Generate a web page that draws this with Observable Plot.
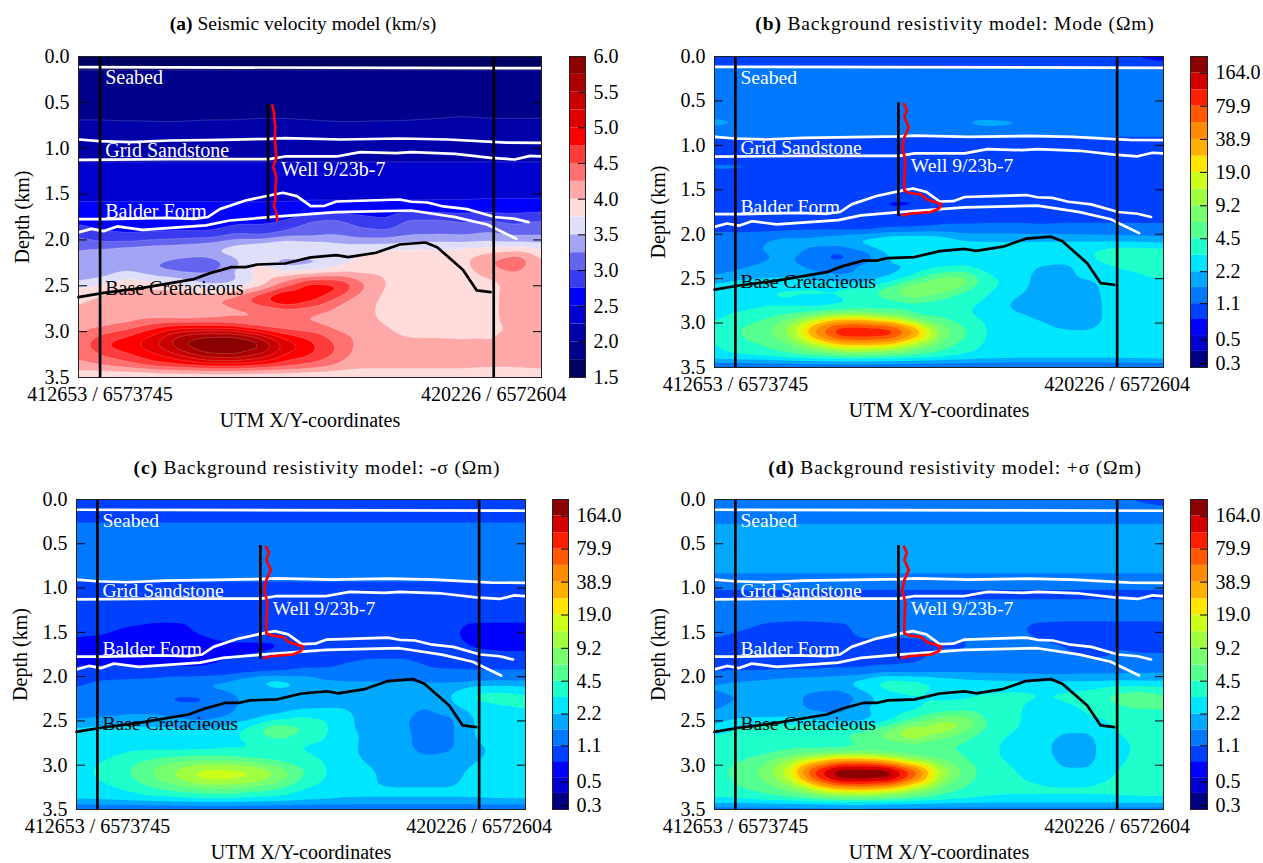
<!DOCTYPE html>
<html><head><meta charset="utf-8">
<script src="https://cdn.jsdelivr.net/npm/d3@7"></script>
<script src="https://cdn.jsdelivr.net/npm/@observablehq/plot@0.6"></script>
<style>
html,body{margin:0;padding:0;background:#fff}
#page{position:relative;width:1263px;height:863px;overflow:hidden;font-family:"Liberation Serif",serif;color:#000}
.t{position:absolute;font-size:19.5px;white-space:nowrap;transform:translateX(-50%);line-height:22px}
</style></head><body><div id="page"></div>
<script>
// along-profile distance in km of each grid column, and depth in km of each grid row
const columnsKm=[-0.42,0.08,0.58,1.08,1.58,2.08,2.58,3.08,3.59,4.09,4.59,5.09,5.59,6.09,6.59,7.09,7.59,8.09,8.59];
const rowsDepth=[0,.1,.15,.65,.8,.92,1.1,1.2,1.5,1.65,1.8,1.95,2.05,2.15,2.25,2.35,2.45,2.55,2.65,2.75,2.85,2.95,3.05,3.15,3.25,3.35,3.43,3.47,3.5];

const velocity=[
[1.6,1.6,1.6,1.6,1.6,1.6,1.6,1.6,1.6,1.6,1.6,1.6,1.6,1.6,1.6,1.6,1.6,1.6,1.6],
[1.65,1.65,1.65,1.65,1.65,1.65,1.65,1.65,1.65,1.65,1.65,1.65,1.65,1.65,1.65,1.65,1.65,1.65,1.65],
[1.8,1.8,1.8,1.8,1.8,1.8,1.8,1.8,1.8,1.8,1.8,1.8,1.8,1.8,1.8,1.8,1.8,1.8,1.8],
[1.97,1.97,1.96,1.96,1.96,1.97,1.97,1.98,1.98,1.97,1.96,1.96,1.96,1.97,1.98,1.99,1.98,1.98,1.98],
[2.07,2.07,2.07,2.06,2.06,2.07,2.07,2.08,2.08,2.07,2.06,2.06,2.07,2.07,2.08,2.1,2.08,2.08,2.08],
[2.15,2.15,2.15,2.15,2.15,2.15,2.15,2.15,2.15,2.15,2.15,2.15,2.15,2.15,2.15,2.15,2.15,2.15,2.15],
[2.22,2.22,2.22,2.22,2.22,2.22,2.22,2.22,2.22,2.22,2.22,2.22,2.22,2.22,2.22,2.22,2.22,2.22,2.22],
[2.28,2.28,2.28,2.28,2.28,2.28,2.28,2.28,2.28,2.28,2.28,2.28,2.28,2.28,2.28,2.28,2.28,2.28,2.28],
[2.43,2.43,2.43,2.43,2.43,2.43,2.43,2.42,2.43,2.43,2.43,2.43,2.43,2.43,2.44,2.44,2.45,2.45,2.45],
[2.56,2.56,2.56,2.56,2.56,2.56,2.56,2.56,2.56,2.58,2.58,2.58,2.58,2.58,2.58,2.58,2.6,2.6,2.6],
[2.7,2.65,2.6,2.6,2.6,2.6,2.65,2.7,2.75,3.05,3.1,2.9,2.8,3.1,3.1,3,3.05,2.95,3.05],
[2.95,2.8,2.75,2.8,2.8,2.8,3,2.9,3.1,3.1,3.2,3.1,3.1,3.2,3.2,3.2,3.3,3.2,3.2],
[3.15,3.05,3.1,3.2,3.3,3.4,3.55,3.7,3.85,3.75,3.6,3.55,3.55,3.6,3.65,3.6,3.6,3.6,3.55],
[3.3,3.45,3.6,3.65,3.55,3.55,3.65,3.7,3.75,3.65,3.7,3.8,3.9,3.9,3.85,4,4.1,4.2,3.9],
[3.3,3.4,3.4,3.15,2.95,2.8,3.25,3.7,3.2,3.3,3.6,3.8,3.9,3.9,3.75,3.95,4.3,4.6,4],
[3.3,3.35,3.45,3.3,3.25,3.35,3.6,4,3.8,3.8,3.9,3.9,3.9,3.9,3.85,3.9,4.1,4.25,4.05],
[3.45,3.6,3.9,3.75,3.6,3.3,3.3,3.6,4.2,4.7,4.7,4.3,4,3.85,3.7,3.85,3.95,4.05,4.05],
[3.85,4,4.1,4.05,4,3.85,3.9,4.25,4.7,5.05,4.9,4.3,3.95,3.85,3.85,3.9,3.95,4.1,4.1],
[4,4.05,4.1,4.2,4.25,4.3,4.45,4.85,5.3,4.9,4.4,4.1,3.95,3.85,3.85,3.85,3.95,4.1,4.1],
[4,4.05,4.1,4.05,3.95,4.1,4.2,4.3,4.4,4.35,4.2,4.05,3.95,3.85,3.85,3.85,3.95,4.1,4.1],
[4.05,4.05,4.1,4.15,4.1,4.15,4.2,4.2,4.2,4.2,4.15,4.05,3.97,3.9,3.87,3.87,3.95,4.1,4.1],
[4.1,4.25,4.4,4.7,4.85,4.8,4.7,4.45,4.35,4.3,4.15,4.05,4,3.9,3.9,3.9,3.95,4,4.05],
[4.3,4.6,4.8,5.1,5.65,5.9,5.95,5.5,4.9,4.7,4.4,4.15,4.05,4,4,3.98,4,4.05,4.1],
[4.4,4.8,4.95,5.3,5.8,6,6,5.95,5.3,4.85,4.5,4.15,4.05,4.05,4.05,4.05,4,4.05,4.1],
[4.3,4.55,4.75,4.95,5.3,5.8,5.9,5.55,4.95,4.8,4.5,4.1,4.05,4.05,4.05,4.05,4,4.05,4.1],
[4.2,4.3,4.45,4.75,4.85,4.95,4.95,4.85,4.7,4.5,4.25,4.05,4.05,4.05,4.05,4.05,4,4,4.05],
[4.1,4.1,4.15,4.2,4.25,4.3,4.3,4.25,4.2,4.15,4.1,4.1,4.1,4.1,4.1,4.1,4.1,4.1,4.1],
[3.8,3.8,3.8,3.8,3.8,3.8,3.8,3.8,3.8,3.8,3.8,3.8,3.8,3.8,3.8,3.8,3.8,3.8,3.8],
[3.4,3.4,3.4,3.4,3.4,3.4,3.4,3.4,3.4,3.4,3.4,3.4,3.4,3.4,3.4,3.4,3.4,3.4,3.4]];

const modeRes=[
[.7,.85,.9,.9,.9,.9,.9,.9,.9,.9,.9,.9,.9,.9,.9,.9,.85,.7,.6],
[.95,.95,.95,.95,.95,.95,.95,.95,.95,.95,.95,.95,.95,.95,.95,.95,.95,.95,.9],
[1.3,1.3,1.3,1.3,1.3,1.3,1.3,1.3,1.3,1.3,1.3,1.3,1.3,1.3,1.3,1.3,1.3,1.3,1.3],
[1.5,1.45,1.45,1.45,1.45,1.45,1.45,1.45,1.45,1.45,1.45,1.45,1.45,1.45,1.45,1.45,1.45,1.45,1.45],
[1.7,1.65,1.65,1.65,1.65,1.62,1.58,1.4,1.4,1.45,1.65,1.75,1.7,1.55,1.6,1.5,1.45,1.45,1.45],
[1.05,1,1,1,1,1,1,1,1,1,1,1,1,1,1,1,1,1,1],
[.95,.95,.95,.95,.95,.95,.95,.95,.95,.95,.95,.95,.95,.95,.95,.95,.95,.95,.95],
[1.15,1.15,1.15,1.15,1.15,1.15,1.15,1.15,1.15,1.15,1.15,1.15,1.15,1.15,1.15,1.15,1.15,1.15,1.15],
[.97,.95,.95,.95,.95,.95,.95,.95,.95,.95,.95,.95,.95,.95,.95,.95,.95,.95,.95],
[.95,.92,.9,.9,.9,.9,.9,.72,.72,.9,.92,.92,.92,.92,.92,.92,.92,.92,.92],
[.95,.92,.9,.9,.85,.72,.85,.9,.95,.95,1,1,1,1,1,1,1,1,1],
[1,.95,.95,.95,.95,.95,.85,1,1,1.15,1.15,1.2,1.2,1.15,1.2,1.2,1.2,1.2,1.2],
[1.3,1.4,1.5,1.7,2,2.3,3,3.6,4,3.2,2.3,2.2,2.2,2.1,2,1.9,1.8,1.7,1.6],
[1.4,1.5,1.6,2.4,1.6,1.5,2,2.4,2.6,2.6,2.5,2.5,2.5,2.7,2.9,3.2,3.5,3.4,3.1],
[1.2,1.3,1.5,1.5,1,.8,1,2.2,2.6,2.6,2.5,2.5,2.6,2.7,2.8,3.1,4.2,5,5],
[1.3,1.5,1.6,1.7,1.5,1.4,2,2.4,2.2,2.6,2.8,2.8,2.8,2.2,2,2.6,3,3.5,4.5],
[1.4,1.6,1.8,1.9,1.5,1.3,1.4,1.7,3,4.8,6,3,2.9,1.9,1.9,2.7,2.9,3,3.3],
[2.2,2.7,2.8,2.8,2.8,2.6,2.2,3.5,6,10,9,3.5,2.9,1.9,1.9,1.9,2.8,2.9,3],
[2.9,3,3.2,3.4,3.6,3.6,4.6,7,15,8,4,3.2,2.6,1.9,1.9,1.9,2.6,2.9,3],
[2.8,2.9,3.1,3.1,2.7,2.7,3.5,4,4.4,4,3.5,3,2,1.9,1.9,1.9,2.5,2.8,3],
[2.8,2.9,3,2.8,2.7,3.2,3.4,3.4,3.4,3.4,3.2,2.8,2.1,1.9,1.9,1.9,2.5,2.8,2.9],
[3,3.6,4.5,7,13,25,25,14,5.5,4.6,3.4,2.8,2.5,2.1,1.9,1.9,2.5,2.9,3],
[3.3,4.6,5.5,11,45,110,113,112,45,9,4.8,3,2.7,2.5,2.1,2.05,2.5,2.9,3.1],
[3.2,4.6,5.5,10,42,108,113,110,42,9,4.7,3,2.7,2.6,2.5,2.5,2.7,2.9,3.1],
[3,4,4.6,6,11,24,28,22,9,5.5,4,2.9,2.7,2.6,2.6,2.6,2.6,2.7,2.9],
[2.9,3.2,3.7,4.5,5.2,6,6,5.4,4.7,4,3.2,2.8,2.6,2.6,2.6,2.6,2.6,2.7,2.8],
[2.6,2.6,2.6,2.7,2.8,2.9,2.9,2.8,2.7,2.6,2.6,2.6,2.6,2.6,2.6,2.6,2.6,2.6,2.6],
[1.1,1.1,1.1,1.1,1.1,1.1,1.1,1.1,1.1,1.1,1.1,1.1,1.1,1.1,1.1,1.1,1.1,1.1,1.1],
[.5,.5,.5,.5,.5,.5,.5,.5,.5,.5,.5,.5,.5,.5,.5,.5,.5,.5,.5]];

const minusSigmaRes=[
[.85,.85,.85,.85,.85,.85,.85,.85,.85,.85,.85,.85,.85,.85,.85,.85,.85,.75,.7],
[.95,.95,.95,.95,.95,.95,.95,.95,.95,.95,.95,.95,.95,.95,.95,.95,.95,.95,.95],
[1.05,1.05,1.05,1.05,1.05,1.05,1.05,1.05,1.05,1.05,1.05,1.05,1.05,1.05,1.05,1.05,1.05,1.05,1.05],
[1.3,1.3,1.3,1.3,1.3,1.3,1.3,1.3,1.3,1.3,1.3,1.3,1.3,1.3,1.3,1.3,1.3,1.3,1.3],
[1.3,1.3,1.3,1.3,1.3,1.3,1.3,1.3,1.3,1.3,1.3,1.3,1.3,1.3,1.3,1.3,1.3,1.3,1.3],
[1.12,1.12,1.12,1.12,1.12,1.12,1.12,1.12,1.12,1.12,1.12,1.12,1.12,1.12,1.12,1.12,1.12,1.12,1.12],
[.85,.85,.85,.85,.85,.85,.85,.85,.85,.85,.85,.85,.85,.85,.85,.85,.85,.85,.85],
[.9,.9,.9,.9,.9,.9,.9,.9,.9,.88,.88,.88,.88,.9,.9,.9,.9,.9,.9],
[.82,.8,.75,.72,.72,.8,.85,.85,.85,.85,.85,.85,.85,.85,.85,.8,.72,.72,.72],
[.72,.72,.7,.7,.7,.72,.75,.75,.75,.85,.88,.88,.88,.88,.88,.85,.74,.7,.7],
[.75,.75,.75,.75,.75,.75,.78,.8,.85,.9,.95,1.1,1.15,1.15,1.05,.95,.9,.9,.9],
[.8,.8,.78,.78,.78,.78,.82,.9,.95,1.15,1.15,1.15,1.15,1.15,1.15,1.15,1.15,1.15,1.15],
[1,1.2,1.3,1.3,1.6,1.6,1.8,2.6,3.4,2.4,1.7,1.6,1.6,1.6,1.5,1.4,1.4,1.4,1.4],
[1.2,1.3,1.3,1.6,1.6,1.6,1.7,1.7,1.9,1.9,1.9,1.9,1.9,1.9,2,2.2,3.3,3.4,3],
[1.1,1.2,1.3,1.3,.8,.85,1.2,1.7,1.8,1.8,1.8,1.9,1.9,1.9,1.9,2.2,3.5,3.7,3.5],
[1.1,1.2,1.5,1.5,1.5,1.4,1.6,1.9,1.7,1.9,2,2.1,2.1,1.7,1.5,2,2.6,3,3.4],
[1.3,1.5,1.5,1.5,1.4,1.3,1.4,1.5,2.2,3.2,3.3,2.2,2.1,1.7,1.4,1.45,2.3,2.5,2.6],
[2.3,2.4,2.3,2.2,2,1.8,2.1,3.5,5.8,5,3.2,2.2,1.7,1.6,1.4,1.45,2.3,2.5,2.5],
[2.4,2.5,2.6,2.7,2.9,3,3.1,4,7,4.4,3.3,2.4,2,1.7,1.4,1.45,2.3,2.5,2.5],
[2.4,2.5,2.6,2.5,2.4,2.5,2.8,3,3.2,3,2.9,2.3,1.9,1.7,1.4,1.45,2.2,2.4,2.5],
[2.5,2.6,3.1,3.3,3.2,3.2,3.3,3.2,3.2,3.2,2.9,2.3,2,1.7,1.45,1.5,2,2.4,2.5],
[2.6,3.2,3.8,4.8,5.8,6.6,6.4,5.2,4.3,3.6,3,2.3,2.1,1.9,1.7,1.9,2.2,2.4,2.5],
[2.8,3.4,4.3,6.5,10,15,16,15,9.5,5,3.2,2.4,2.2,2.1,2,2.1,2.3,2.4,2.5],
[2.8,3.3,4.3,6.2,10,16,17,14,9,4.7,3.1,2.4,2.2,2.1,2.1,2.1,2.3,2.4,2.5],
[2.6,2.9,3.4,4.6,5.8,7,7.2,6,4.8,3.3,2.9,2.3,2.2,2.2,2.2,2.2,2.3,2.4,2.5],
[2.4,2.5,2.8,3.1,3.4,3.8,3.8,3.4,3.1,2.6,2.4,2.3,2.3,2.3,2.3,2.3,2.3,2.4,2.4],
[2.3,2.3,2.3,2.3,2.3,2.3,2.3,2.3,2.3,2.3,2.3,2.3,2.3,2.3,2.3,2.3,2.3,2.3,2.3],
[1.2,1.2,1.2,1.2,1.2,1.2,1.2,1.2,1.2,1.2,1.2,1.2,1.2,1.2,1.2,1.2,1.2,1.2,1.2],
[.6,.6,.6,.6,.6,.6,.6,.6,.6,.6,.6,.6,.6,.6,.6,.6,.6,.6,.6]];

const plusSigmaRes=[
[.9,1.3,1.3,1.3,1.3,1.3,1.3,1.3,1.3,1.3,1.3,1.3,1.3,1.3,1.3,1.3,1.2,.9,.7],
[1.35,1.35,1.35,1.35,1.35,1.35,1.35,1.35,1.35,1.35,1.35,1.35,1.35,1.35,1.35,1.35,1.35,1.35,1.35],
[1.5,1.5,1.5,1.5,1.5,1.5,1.5,1.5,1.5,1.5,1.5,1.5,1.5,1.5,1.5,1.5,1.5,1.5,1.5],
[1.75,1.75,1.75,1.75,1.75,1.75,1.75,1.75,1.75,1.75,1.75,1.75,1.75,1.75,1.75,1.75,1.75,1.75,1.75],
[1.75,1.75,1.75,1.75,1.75,1.75,1.75,1.75,1.75,1.75,1.75,1.75,1.75,1.75,1.75,1.75,1.75,1.75,1.75],
[1.25,1.25,1.25,1.25,1.25,1.25,1.25,1.25,1.25,1.25,1.25,1.25,1.25,1.25,1.25,1.25,1.25,1.25,1.25],
[.98,.98,.98,.98,.98,.98,.98,.98,.98,.98,.98,.98,.98,.98,.98,.98,.98,.98,.98],
[1.3,1.3,1.3,1.3,1.3,1.3,1.3,1.3,1.3,1.3,1.3,1.3,1.3,1.3,1.3,1.3,1.3,1.3,1.3],
[1.2,1.1,1,.98,.98,1,1.2,1.2,1.2,1.2,1.15,1.15,1.15,1,.98,.98,.98,.98,.98],
[.98,.95,.95,.95,.95,.95,1,.98,.98,1.05,1.05,1.2,1.2,1.2,1.1,1,1.1,.98,.98],
[.95,.98,.98,1,1,1,1,1,1.05,1.2,1.2,1.25,1.25,1.2,1.15,1.1,1.1,1.2,1.2],
[1.05,1.05,1.05,1.05,1.05,1.1,1.1,1.2,1.2,1.3,1.4,1.35,1.35,1.3,1.3,1.4,1.4,1.45,1.45],
[1.6,1.7,1.8,2,2.3,2.5,3.2,5,4.4,3.2,2.6,2.4,2.3,2.3,2.3,2.2,2.2,2.1,2.1],
[1.6,1.7,1.8,2.1,1.8,1.6,2.4,3,3.2,3,3,3.2,3.3,3.2,3.2,3.4,4.3,4.5,4],
[1.4,1.5,1.9,2,1.1,1,1.5,2.8,3.2,3.1,3.1,3.2,3.3,3.2,3.3,3.6,5.2,6.5,5],
[1.5,1.7,1.4,1.5,1.5,1.5,2.6,3,2.7,3.2,3.4,3.5,3.3,2.7,3,3.4,4,4.6,5],
[1.6,1.9,2.1,2.2,1.7,1.5,1.6,2.2,3.6,6,7,3.7,3.5,2.4,2.4,3.2,3.4,3.6,3.8],
[2.3,3.3,3.4,3.3,3.3,3,2.9,4.4,8,14,11,4.5,3.5,2.5,2.4,2.5,3.3,3.4,3.5],
[3.4,3.5,3.8,4.4,4.6,4.7,6,10,24,10,5,3.9,3,2.5,2.15,2.1,3.1,3.4,3.5],
[3.3,3.5,3.7,4,3.8,3.7,4.6,5.2,5.3,4.8,4.4,3.6,2.6,2.4,2,1.95,2.9,3.3,3.5],
[3.3,3.5,3.7,4.2,4.1,4.2,4.5,4.5,4.4,4.4,4.2,3.5,2.7,2.4,2,1.95,2.8,3.3,3.4],
[3.5,4.4,6,10,22,50,50,28,10,6.5,4.6,3.5,3,2.5,2,2,3,3.3,3.5],
[3.8,5.4,7,18,100,235,235,235,85,14,5.8,3.7,3.2,3,2.15,2.15,3.1,3.4,3.6],
[3.7,5.2,7,16,85,235,235,230,70,13,5.6,3.6,3.2,3.1,3,3,3.2,3.4,3.6],
[3.5,4.5,5.2,8,18,40,48,32,13,6.5,4.6,3.4,3.2,3.2,3.2,3.2,3.2,3.3,3.4],
[3.3,3.6,4.3,4.8,5.6,7,7,6,4.8,4.2,3.5,3.2,3.2,3.2,3.2,3.2,3.2,3.3,3.3],
[3.1,3.1,3.1,3.2,3.3,3.4,3.4,3.3,3.2,3.1,3.1,3.1,3.1,3.1,3.1,3.1,3.1,3.1,3.1],
[1.3,1.3,1.3,1.3,1.3,1.3,1.3,1.3,1.3,1.3,1.3,1.3,1.3,1.3,1.3,1.3,1.3,1.3,1.3],
[.6,.6,.6,.6,.6,.6,.6,.6,.6,.6,.6,.6,.6,.6,.6,.6,.6,.6,.6]];

// horizons: [km along profile, depth km]
const seabed=[[-.4,.116],[8.57,.127]];
const gridTop=[[-.4,.905],[-.02,.923],[.6,.934],[1.37,.916],[2.37,.908],[3.29,.898],[3.6,.89],[4.68,.905],[5.83,.894],[6.76,.905],[7.91,.938],[8.57,.941]];
const gridBase=[[-.4,1.127],[1.37,1.119],[3.29,1.119],[3.6,1.09],[4.6,1.09],[5.06,1.043],[5.76,1.054],[6.06,1.043],[6.91,1.061],[7.6,1.105],[8.07,1.123],[8.37,1.083],[8.57,1.09]];
const balderTop=[[-.4,1.773],[.13,1.773],[1.29,1.759],[1.83,1.77],[2.1,1.75],[2.33,1.664],[2.83,1.57],[3.29,1.515],[3.56,1.486],[3.83,1.523],[4.1,1.632],[4.37,1.628],[4.6,1.581],[5.83,1.559],[6.06,1.584],[6.37,1.592],[6.68,1.635],[7.14,1.664],[7.68,1.75],[8.07,1.77],[8.34,1.806]];
const balderBase=[[-.4,1.915],[-.17,1.879],[.07,1.904],[.33,1.853],[.83,1.89],[2.06,1.842],[2.52,1.788],[3.29,1.752],[4.6,1.697],[6.06,1.679],[6.91,1.752],[7.53,1.832],[8.1,1.988]];
const baseCretaceous=[[-.42,2.624],[.07,2.577],[.83,2.522],[1.83,2.427],[2.14,2.362],[2.56,2.297],[2.83,2.297],[3.06,2.268],[3.6,2.257],[4.1,2.19],[4.6,2.166],[4.83,2.188],[5.37,2.14],[5.83,2.05],[6.33,2.028],[6.56,2.079],[7.06,2.326],[7.33,2.551],[7.6,2.569]];
const velocityLog=[[3.35,.534],[3.38,.6],[3.41,.77],[3.4,.9],[3.43,1.097],[3.37,1.206],[3.43,1.315],[3.41,1.45],[3.41,1.57],[3.38,1.62],[3.43,1.7],[3.45,1.788]];
const resistivityLog=[[3.38,.533],[3.44,.6],[3.39,.683],[3.48,.795],[3.39,.908],[3.35,1.02],[3.41,1.17],[3.39,1.395],[3.39,1.51],[3.48,1.534],[3.72,1.55],[3.84,1.61],[4.13,1.66],[4.08,1.714],[3.92,1.75],[3.48,1.77],[3.35,1.79]];
const wellKm=3.27, wellDepth=[.52,1.8];
const profileEnds=[0,7.66], endLabels=["412653 / 6573745","420226 / 6572604"];
const depthTicks=[0,.5,1,1.5,2,2.5,3,3.5];

const velocityEdges=[1.5,1.75,2,2.25,2.5,2.75,3,3.25,3.5,3.75,4,4.25,4.5,4.75,5,5.25,5.5,5.75,6];
const velocityColors=["#000060","#00008a","#0000a8","#0000cf","#0000ff","#3a3aee","#6464ee","#a4a4f4","#dfdffa","#ffdddd","#ffa8a8","#ff7070","#ff3c3c","#ff0000","#e00000","#c80000","#ac0000","#8b0000"];
const velocityTicks=[1.5,2,2.5,3,3.5,4,4.5,5,5.5,6];
const resEdges=[.275,.39,.55,.78,1.1,1.56,2.2,3.15,4.5,6.4,9.2,13.2,19,27,38.9,56,79.9,114,164,235];
const resColors=["#000080","#0000d0","#0000ff","#0040ff","#0078ff","#00a8ff","#00e6ff","#1effcc","#55ff90","#78ff70","#a0ff40","#ccff1a","#ffe600","#ffb000","#ff8c00","#ff5a00","#ff2000","#d40000","#8b0000"];
const resTicks=[.3,.5,1.1,2.2,4.5,9.2,19,38.9,79.9,164];

const font='"Liberation Serif",serif';
const page=document.getElementById("page");
const seg=(h)=>h.map(([x,y])=>({x,y}));
function put(el,left,top){el.style.position="absolute";el.style.left=left+"px";el.style.top=top+"px";el.style.overflow="visible";page.appendChild(el);}

function panel(o){
  const isLog=o.log;
  const f=isLog?Math.log2:(v=>v);
  const edges=o.edges.map(f);
  const pts=[];
  o.grid.forEach((row,j)=>row.forEach((v,i)=>pts.push({x:columnsKm[i],y:rowsDepth[j],value:f(v)})));
  const mL=o.x0-o.svgLeft, mT=6, mB=72, mR=32;
  const W=o.x1-o.x0, H=o.y1-o.y0;
  const white={x:"x",y:"y",stroke:"#fff",strokeWidth:2.7};
  const label=(s,x,y,fill)=>Plot.text([s],{x,y,text:d=>d,fill,textAnchor:"start",fontSize:o.labelSize||20});
  const marks=[
    Plot.frame({fill:o.bg,stroke:"none"}),
    Plot.contour(pts,{x:"x",y:"y",fill:"value",interpolate:"barycentric",thresholds:edges.slice(0,-1),blur:2,
      stroke:o.contourStroke||"none",strokeOpacity:.3,strokeWidth:.6}),
    Plot.line(seg(seabed),white),
    Plot.line(seg(gridTop),white),
    Plot.line(seg(gridBase),white),
    Plot.line(seg(balderTop),white),
    Plot.line(seg(balderBase),white),
    Plot.ruleX(profileEnds,{stroke:"#000",strokeWidth:2.7}),
    Plot.ruleX([wellKm],{y1:wellDepth[0],y2:wellDepth[1],stroke:"#000",strokeWidth:2.7}),
    Plot.line(seg(baseCretaceous),{x:"x",y:"y",stroke:"#000",strokeWidth:2.7}),
    Plot.line(seg(o.logCurve),{x:"x",y:"y",stroke:"#f00",strokeWidth:2.7}),
    label("Seabed",.1,.235,"#fff"),
    label("Grid Sandstone",.1,1.03,"#fff"),
    label("Well 9/23b-7",3.52,1.23,"#fff"),
    label("Balder Form",.1,1.686,"#fff"),
    label("Base Cretacieous",.1,2.53,"#000"),
    Plot.axisY({anchor:"left",ticks:depthTicks,tickSize:-9,tickPadding:18,tickFormat:d=>d.toFixed(1),
      label:"Depth (km)",labelAnchor:"center",labelArrow:"none",labelOffset:64,fontSize:20,stroke:"#000"}),
    Plot.axisY({anchor:"right",ticks:depthTicks,tickSize:-9,tickFormat:()=>"",label:null,stroke:"#000"}),
    Plot.axisX({anchor:"bottom",ticks:profileEnds,tickSize:0,tickPadding:9,tickFormat:d=>endLabels[profileEnds.indexOf(d)],
      label:"UTM X/Y-coordinates",labelAnchor:"center",labelArrow:"none",labelOffset:49,fontSize:20}),
    Plot.frame({stroke:"#222",strokeWidth:1})
  ];
  const chart=Plot.plot({width:mL+W+mR,height:mT+H+mB,marginLeft:mL,marginRight:mR,marginTop:mT,marginBottom:mB,
    style:{fontFamily:font,fontSize:"20px",color:"#000",background:"transparent",overflow:"visible"},
    x:{domain:[-.42,8.59],axis:null},y:{domain:[0,3.5],reverse:true,axis:null},
    color:{type:"threshold",domain:edges.slice(1,-1),range:o.colors},marks});
  put(chart,o.svgLeft,o.y0-mT);
  // colour bar
  const bands=o.colors.map((color,i)=>({lo:o.edges[i],hi:o.edges[i+1],color}));
  const bar=Plot.plot({width:o.barW+60,height:H+20,marginLeft:0,marginRight:60,marginTop:10,marginBottom:10,
    style:{fontFamily:font,fontSize:"20px",color:"#000",background:"transparent",overflow:"visible"},
    x:{domain:[0,1],axis:null},
    y:isLog?{type:"log",base:2,domain:[o.edges[0],o.edges[o.edges.length-1]],axis:null}:{domain:[o.edges[0],o.edges[o.edges.length-1]],axis:null},
    marks:[
      Plot.rect(bands,{x1:0,x2:1,y1:"lo",y2:"hi",fill:{value:"color",scale:null}}),
      Plot.axisY({anchor:"right",ticks:o.barTicks,tickSize:-8,tickPadding:16,tickFormat:d=>d.toFixed(1),label:null,fontSize:20,stroke:"#000"}),
      Plot.frame({stroke:"#222"})
    ]});
  put(bar,o.barX,o.y0-10);
  const t=document.createElement("div");t.className="t";t.innerHTML=o.title;
  t.style.left=o.titleX+"px";t.style.top=o.titleY+"px";t.style.letterSpacing=(o.spacing||0)+"px";page.appendChild(t);
}

const shared={log:true,edges:resEdges,colors:resColors,barTicks:resTicks,logCurve:resistivityLog,bg:"#000080",spacing:.85,labelSize:19.6};
panel({grid:velocity,log:false,edges:velocityEdges,colors:velocityColors,barTicks:velocityTicks,logCurve:velocityLog,bg:"#000060",
  contourStroke:"#fff",svgLeft:0,x0:78,x1:541,y0:56,y1:377,barX:569,barW:16,titleX:303,titleY:13,spacing:0,
  title:"<b>(a)</b> Seismic velocity model (km/s)"});
panel({...shared,grid:modeRes,svgLeft:630,x0:714,x1:1163,y0:56,y1:367,barX:1190,barW:17,titleX:955,titleY:13,
  title:"<b>(b)</b> Background resistivity model: Mode (Ωm)"});
panel({...shared,grid:minusSigmaRes,svgLeft:0,x0:76,x1:525,y0:499,y1:809,barX:552,barW:16,titleX:317,titleY:457,
  title:"<b>(c)</b> Background resistivity model: -σ (Ωm)"});
panel({...shared,grid:plusSigmaRes,svgLeft:630,x0:714,x1:1163,y0:499,y1:809,barX:1190,barW:17,titleX:955,titleY:457,
  title:"<b>(d)</b> Background resistivity model: +σ (Ωm)"});
</script></body></html>
